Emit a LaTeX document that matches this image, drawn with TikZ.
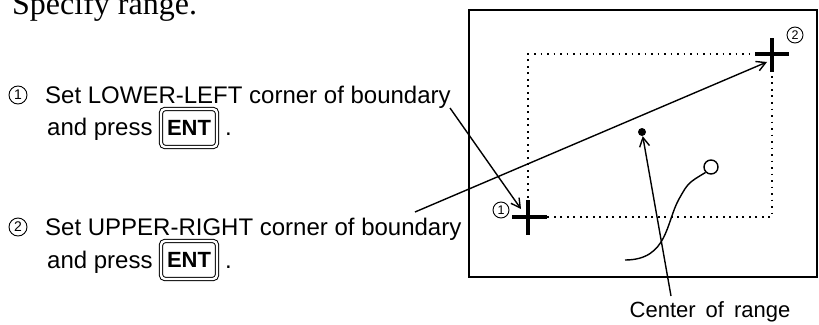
\documentclass[tikz,border=0pt]{standalone}
\usepackage{fontspec}
\setmainfont{Liberation Sans}
\newfontfamily\serifface{Liberation Serif}
\usetikzlibrary{arrows.meta}
\begin{document}
\begin{tikzpicture}[x=1pt,y=-1pt,
  every node/.style={inner sep=0pt},
  txt/.style={anchor=base west, font=\fontsize{24}{28}\selectfont},
  num/.style={circle, draw, line width=0.9pt, minimum size=18pt, font=\fontsize{14}{15}\selectfont},
  smallnum/.style={circle, draw, line width=0.9pt, minimum size=16pt, font=\fontsize{12.5}{13}\selectfont},
  enkey/.style={draw, double, double distance=2.4pt, line width=1pt, rounded corners=4pt,
    minimum width=56pt, minimum height=38pt, font=\bfseries\fontsize{22}{24}\selectfont},
  arr/.style={line width=1.4pt, -{Straight Barb[length=9pt,width=10pt,line width=1.4pt]}},
  crossline/.style={line width=3.2pt},
  dots/.style={line width=1.9pt, dash pattern=on 1.9pt off 4.6pt},
  frame/.style={line width=1.6pt},
  thin/.style={line width=1.4pt}
]
\useasboundingbox (0,0) rectangle (819,324);

% title
\node[anchor=base west, font=\serifface\fontsize{32}{36}\selectfont] (title) at (12,14) {Specify range.};

% step 1
\node[num] (n1) at (18,95) {1};
\node[txt] (t1) at (45,103) {Set LOWER-LEFT corner of boundary};
\node[txt] (t1b) at (47,135) {and press};
\node[enkey] (k1) at (189,128) {ENT};
\node[txt] (p1) at (225,135) {.};

% step 2
\node[num] (n2) at (18,227) {2};
\node[txt] (t2) at (45,235) {Set UPPER-RIGHT corner of boundary};
\node[txt] (t2b) at (47,268) {and press};
\node[enkey] (k2) at (189,260) {ENT};
\node[txt] (p2) at (225,268) {.};

% screen frame
\draw[frame] (469,10) rectangle (817,277);

% dotted range
\coordinate (c1) at (528,217);
\coordinate (c2) at (772,54);
\draw[dots] (c1) -- (528,54) -- (c2) -- (772,217) -- cycle;

% crosses
\draw[crossline] (512,217) -- (547,217);
\draw[crossline] (528,200) -- (528,235);
\draw[crossline] (755,54) -- (789,54);
\draw[crossline] (772,38) -- (772,72);

\node[smallnum] (m1) at (501,210) {1};
\node[smallnum] (m2) at (795,35) {2};

% center dot
\node[circle, fill, minimum size=8pt] (dot) at (642,132) {};

% curve with circle
\node[circle, draw, thin, minimum size=14pt] (ring) at (711,167) {};
\coordinate (cs) at (625,260);
\draw[thin] (cs) .. controls (668,260) and (666,222) .. (679,199) .. controls (688,183) .. (ring.south west);

% arrows
\coordinate (a1s) at (450,108);
\coordinate (a1e) at (521,209);
\draw[arr] (a1s) -- (a1e);
\coordinate (a2s) at (415,212);
\coordinate (a2e) at (767,62);
\draw[arr] (a2s) -- (a2e);

% center label
\node[anchor=base, font=\fontsize{22}{24}\selectfont] (ctr) at (710,317) {Center\hspace{10pt}of\hspace{10pt}range};
\coordinate (a3s) at (671,296);
\draw[arr] (a3s) -- (dot);
\end{tikzpicture}
\end{document}
